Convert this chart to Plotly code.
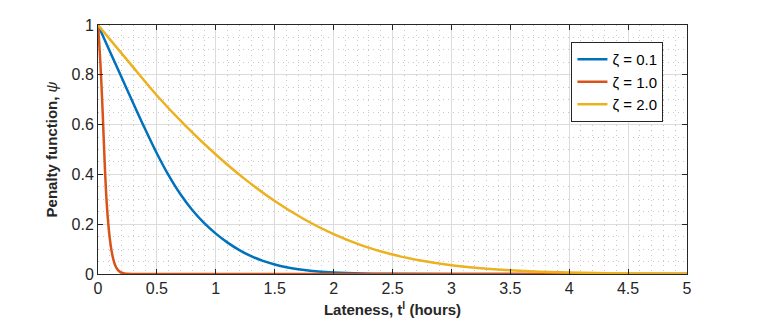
import plotly.graph_objects as go

# values
x_blue = [0, 0.1, 0.2, 0.3, 0.4, 0.5, 0.6, 0.7, 0.8, 0.9, 1.0, 1.1, 1.2, 1.3,
          1.4, 1.5, 1.6, 1.7, 1.8, 2.0, 2.25, 2.5, 3.0, 5.0]
y_blue = [1, 0.895, 0.790, 0.685, 0.582, 0.484, 0.396, 0.320, 0.257, 0.205,
          0.162, 0.126, 0.096, 0.0715, 0.0525, 0.038, 0.027, 0.019, 0.013,
          0.006, 0.002, 0.0008, 0.0001, 0]

x_orange = [0, 0.01, 0.02, 0.03, 0.04, 0.05, 0.06, 0.07, 0.08, 0.09, 0.10,
            0.11, 0.12, 0.13, 0.14, 0.15, 0.16, 0.18, 0.20, 0.225, 0.25, 0.3, 5.0]
y_orange = [1, 0.93, 0.85, 0.755, 0.645, 0.525, 0.41, 0.315, 0.243, 0.187,
            0.143, 0.108, 0.080, 0.059, 0.043, 0.031, 0.022, 0.011, 0.005,
            0.0018, 0.0006, 0.0001, 0]

x_yellow = [0, 0.25, 0.5, 0.75, 1.0, 1.25, 1.5, 1.75, 2.0, 2.25, 2.5, 2.75,
            3.0, 3.25, 3.5, 3.75, 4.0, 4.5, 5.0]
y_yellow = [1, 0.858, 0.717, 0.592, 0.480, 0.380, 0.293, 0.220, 0.160, 0.113,
            0.078, 0.053, 0.035, 0.023, 0.015, 0.0095, 0.006, 0.002, 0.0007]

series = [
    ("ζ = 0.1", x_blue, y_blue, "#0072BD"),
    ("ζ = 1.0", x_orange, y_orange, "#D95319"),
    ("ζ = 2.0", x_yellow, y_yellow, "#EDB120"),
]

x_ticks = [0, 0.5, 1, 1.5, 2, 2.5, 3, 3.5, 4, 4.5, 5]
x_ticktext = ["0", "0.5", "1", "1.5", "2", "2.5", "3", "3.5", "4", "4.5", "5"]
y_ticks = [0, 0.2, 0.4, 0.6, 0.8, 1]
y_ticktext = ["0", "0.2", "0.4", "0.6", "0.8", "1"]

AXIS_COLOR = "#262626"
FONT = "Liberation Sans, Arial, sans-serif"

fig = go.Figure()
for name, xs, ys, color in series:
    fig.add_trace(go.Scatter(
        x=xs, y=ys, name=name, mode="lines",
        line=dict(color=color, width=2.5, shape="spline", smoothing=1),
    ))

axis_common = dict(
    showline=True, linecolor=AXIS_COLOR, linewidth=1, mirror="ticks",
    ticks="inside", ticklen=5, tickcolor=AXIS_COLOR, tickwidth=1,
    showgrid=True, gridcolor="#dcdcdc", gridwidth=1,
    zeroline=False, automargin=False,
    tickfont=dict(family=FONT, size=16, color=AXIS_COLOR),
)

fig.update_xaxes(
    range=[0, 5], tickvals=x_ticks, ticktext=x_ticktext,
    minor=dict(dtick=0.1, showgrid=True, gridcolor="#c8c8c8",
               griddash="1px,4px", ticks=""),
    title=dict(text="<b>Lateness, t<sup>l</sup> (hours)</b>",
               font=dict(family=FONT, size=15, color=AXIS_COLOR), standoff=8),
    **axis_common,
)
fig.update_yaxes(
    range=[0, 1], tickvals=y_ticks, ticktext=y_ticktext,
    minor=dict(dtick=0.05, showgrid=True, gridcolor="#c8c8c8",
               griddash="1px,4px", ticks=""),
    title=dict(text="<b>Penalty function,</b> <i>ψ</i>",
               font=dict(family=FONT, size=15, color=AXIS_COLOR), standoff=10),
    **axis_common,
)

# page body adds an 8px offset, so the figure is drawn 8px smaller
fig.update_layout(
    width=754, height=319,
    margin=dict(l=90, r=75, t=17, b=53),
    plot_bgcolor="white", paper_bgcolor="white",
    font=dict(family=FONT, size=16, color=AXIS_COLOR),
    legend=dict(
        x=0.96, y=0.932, xanchor="right", yanchor="top",
        bgcolor="white", bordercolor=AXIS_COLOR, borderwidth=1,
        font=dict(family=FONT, size=15, color="black"),
        tracegroupgap=0,
    ),
)

fig.write_html("out.html")
